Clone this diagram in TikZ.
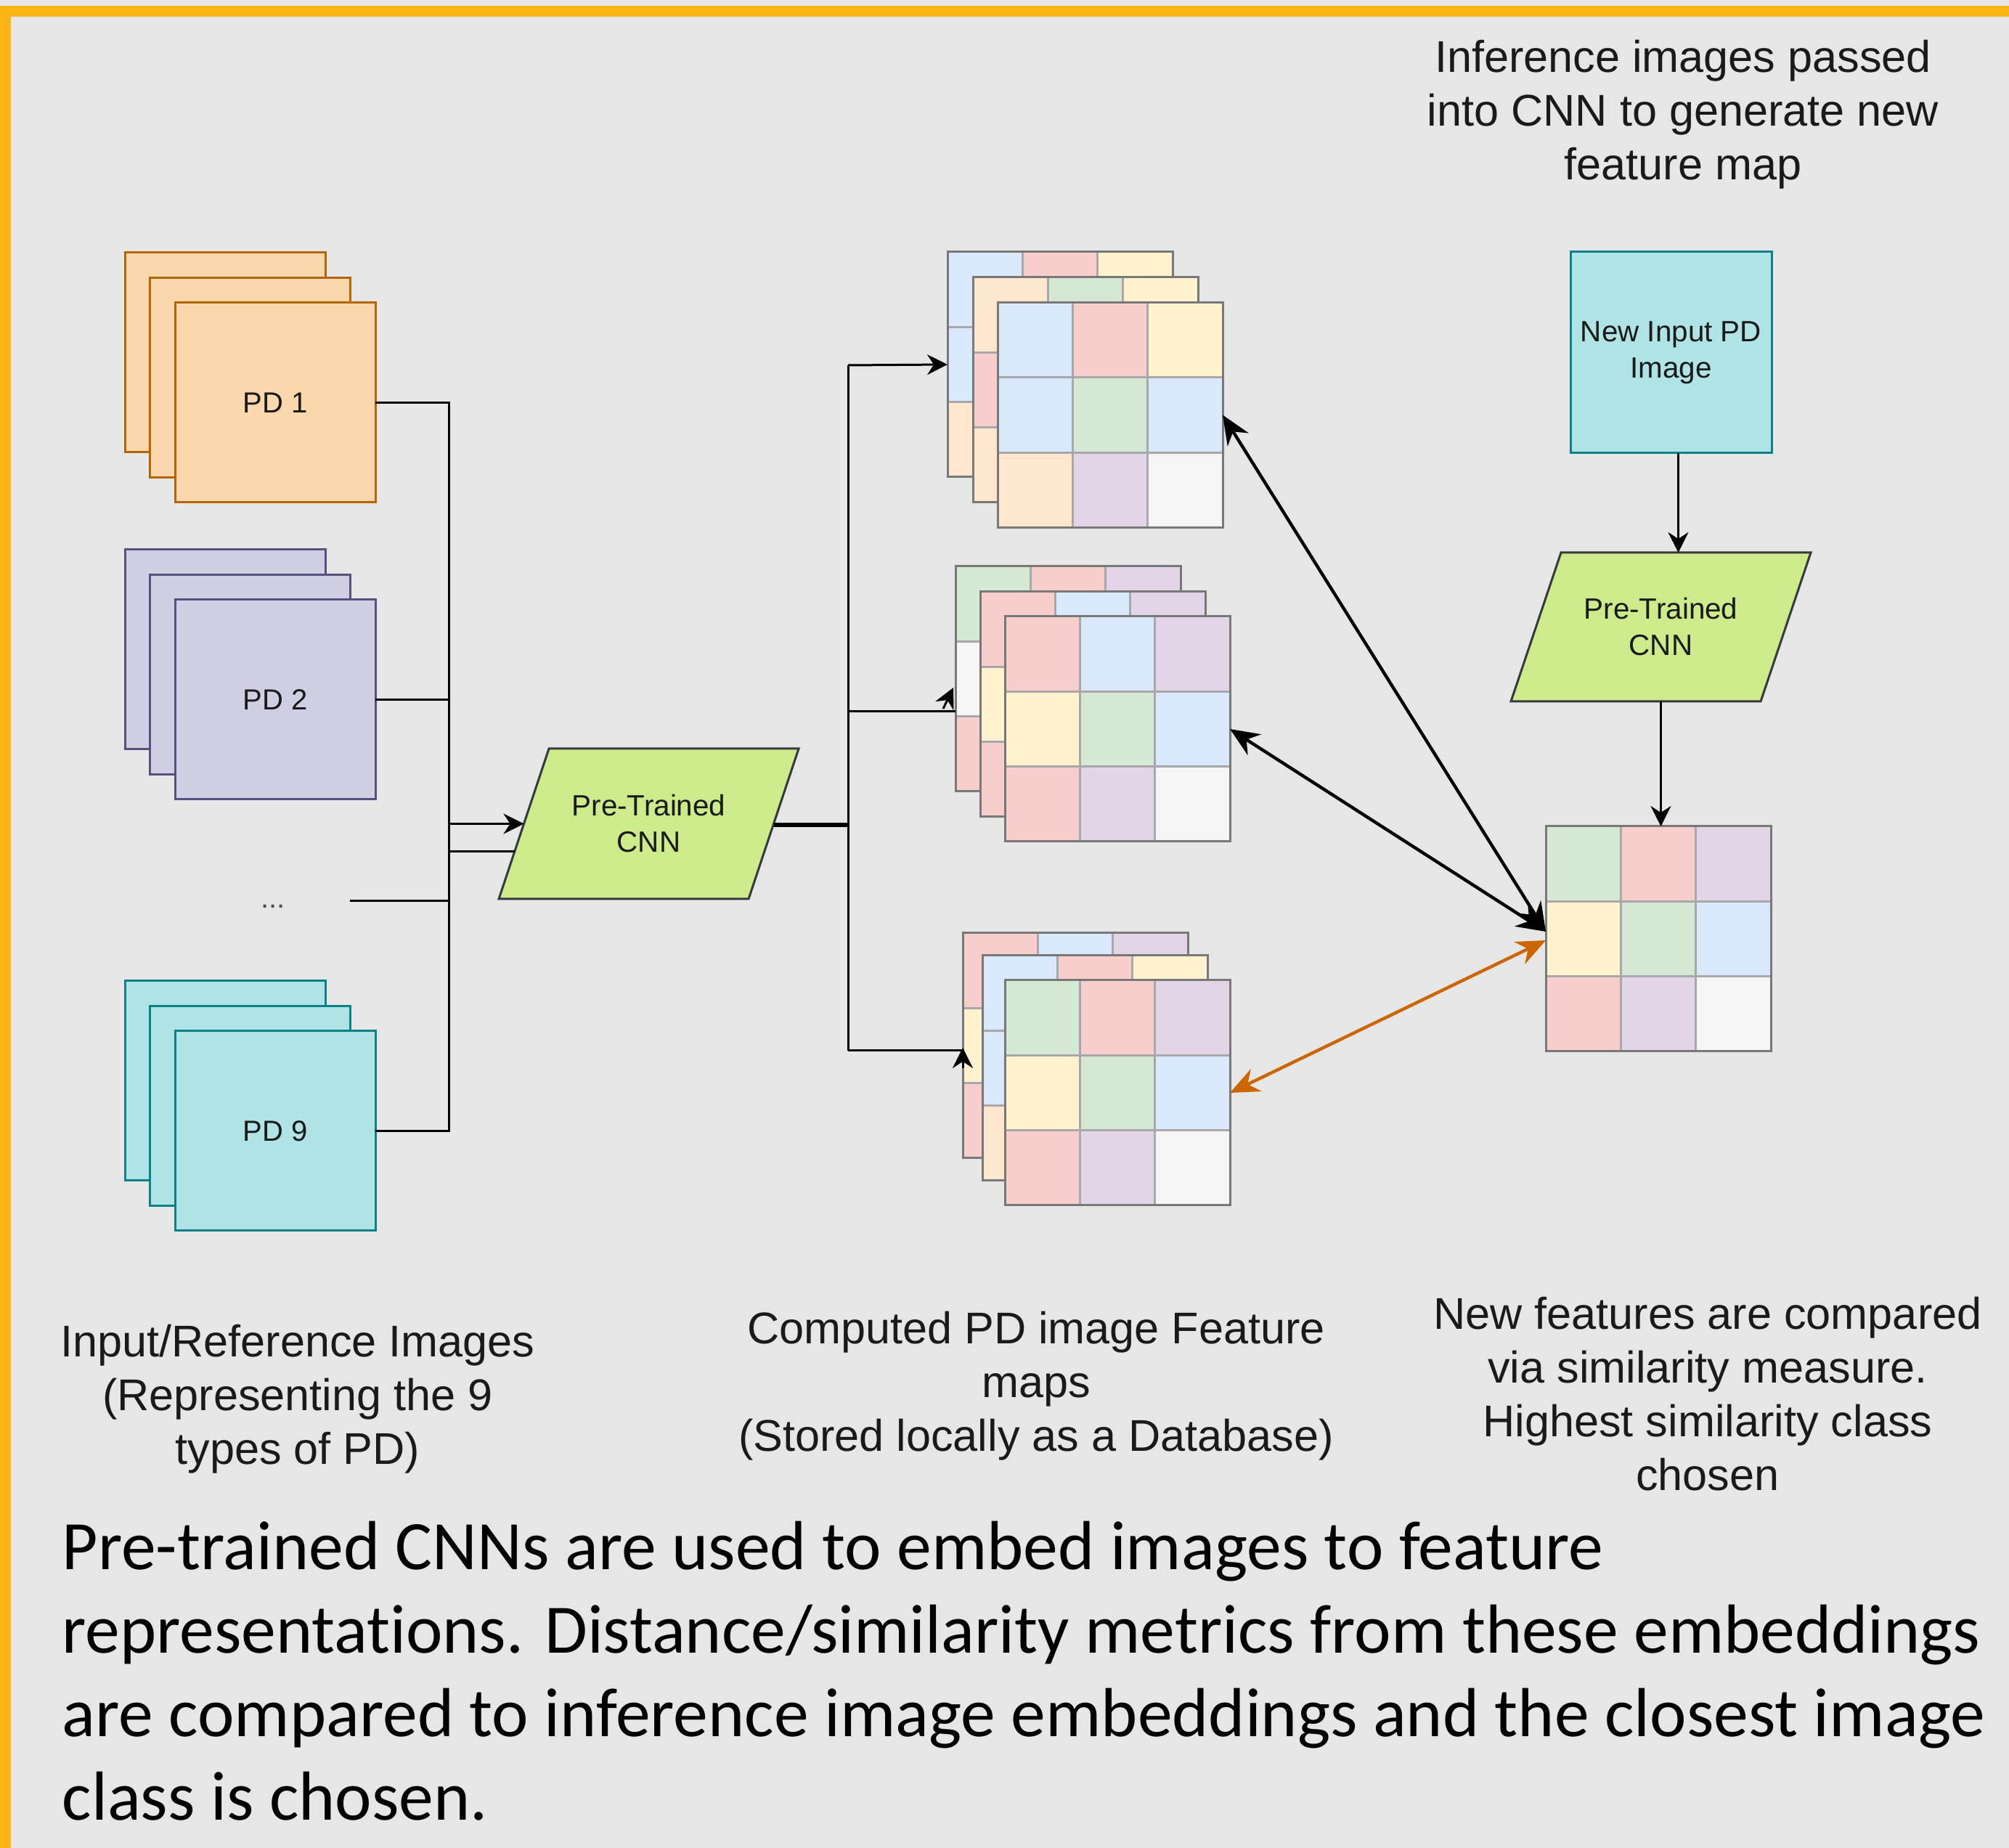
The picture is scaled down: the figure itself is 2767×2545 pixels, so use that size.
\documentclass[tikz,border=0pt]{standalone}
\usepackage{fontspec}
\setmainfont{Liberation Sans}
\newfontfamily\capfont[Ligatures={NoCommon,NoContextual,NoRare}]{Carlito}
\usetikzlibrary{arrows.meta,calc}

\definecolor{bgc}{HTML}{E6E6E6}
\definecolor{yframe}{HTML}{FBB616}
\definecolor{pfill}{HTML}{FAD7AC}\definecolor{pline}{HTML}{B46504}
\definecolor{vfill}{HTML}{D0CEE2}\definecolor{vline}{HTML}{56517E}
\definecolor{tfill}{HTML}{B0E3E6}\definecolor{tline}{HTML}{0E8088}
\definecolor{gfill}{HTML}{CDEB8B}\definecolor{gline}{HTML}{36393D}
\definecolor{cb}{HTML}{DAE8FC}\definecolor{cr}{HTML}{F8CECC}
\definecolor{cy}{HTML}{FFF2CC}\definecolor{cg}{HTML}{D5E8D4}
\definecolor{cp}{HTML}{E1D5E7}\definecolor{co}{HTML}{FFE6CC}
\definecolor{cw}{HTML}{F5F5F5}
\definecolor{gridin}{HTML}{A8A8AC}
\definecolor{gridout}{HTML}{787878}
\definecolor{arrorange}{HTML}{CC6600}
\definecolor{txt}{HTML}{1A1A1A}

\tikzset{
  pdbox/.style={rectangle, minimum width=69pt, minimum height=68.75pt, inner sep=0pt, outer sep=0pt,
    line width=0.75pt, anchor=north west, font=\fontsize{10}{12}\selectfont, text=txt},
  pdA/.style={pdbox, fill=pfill, draw=pline},
  pdB/.style={pdbox, fill=vfill, draw=vline},
  pdC/.style={pdbox, fill=tfill, draw=tline},
  gridnode/.style={rectangle, minimum width=77.5pt, minimum height=77.5pt, inner sep=0pt, outer sep=0pt, anchor=north west},
  cnnrect/.style={rectangle, minimum width=103.25pt, minimum height=51.75pt, inner sep=0pt, outer sep=0pt},
  paraface/.style={fill=gfill, draw=gline, line width=0.75pt, line join=miter},
  boxtext/.style={font=\fontsize{10.1}{12.5}\selectfont, text=txt, align=center},
  lbl/.style={font=\fontsize{15.3}{18.5}\selectfont, text=txt, align=center, inner sep=0pt},
  captext/.style={font=\capfont\fontsize{23.9}{28.75}\selectfont, text=black, align=left, inner sep=0pt, anchor=west},
  conn/.style={draw=black, line width=0.75pt},
  connarrow/.style={conn, -{Stealth[length=7pt, width=7pt]}},
  tiphead/.style={draw=black, line width=0.75pt, -{Stealth[length=7pt, width=7pt]}},
  dbl/.style={line width=1.1pt, {Stealth[length=10pt,width=8.5pt]}-{Stealth[length=10pt,width=8.5pt]}},
}

\newcommand\pdstack[5]{%
  \node[#4] (#1a) at (#2,#3) {};
  \node[#4] (#1b) at ({#2+34.5},{#3+34.5}) {};
  \node[#4] (#1c) at ({#2+69},{#3+69}) {#5};
}

\newcommand\fgrid[4]{%
  \node[gridnode] (#1) at (#2,#3) {};
  \foreach \cc [count=\k from 0] in {#4} {
    \pgfmathtruncatemacro\rr{(\k+0.5)/3}
    \pgfmathtruncatemacro\qq{\k-3*\rr}
    \filldraw[fill=\cc, draw=gridin, line width=0.75pt]
      ({#2+\qq*103.333},{#3+\rr*103.333}) rectangle +(103.333,103.333);
  }
  \draw[draw=gridout, line width=0.75pt] (#1.north west) rectangle (#1.south east);
}

\begin{document}
\begin{tikzpicture}[x=0.25pt,y=-0.25pt]
\useasboundingbox (0,0) rectangle (2767,2545);
\fill[fill=bgc] (0,0) rectangle (2767,2545);
\fill[fill=yframe] (0,8) rectangle (2767,23);
\fill[fill=yframe] (0,8) rectangle (15,2545);

% input stacks
\pdstack{pd1}{172}{348}{pdA}{PD 1}
\pdstack{pd2}{172}{757}{pdB}{PD 2}
\pdstack{pd9}{172}{1351}{pdC}{PD 9}
\node[font=\fontsize{10}{12}\selectfont, text=black!70, minimum width=52.5pt, inner sep=0pt] (pddots) at (376,1241) {\strut...};

% left CNN
\node[cnnrect] (cnnL) at (893.5,1134.5) {};
\path[paraface] (cnnL.south west) -- ($(cnnL.north west)+(69,0)$) -- (cnnL.north east) -- ($(cnnL.south east)+(-69,0)$) -- cycle;
\node[boxtext] (cnnLt) at (cnnL) {Pre-Trained\\CNN};
\coordinate (cnnLin) at ($(cnnL.west)+(34.5,0)$);
\coordinate (cnnLin2) at ($(cnnL.west)+(21.7,38.5)$);
\coordinate (cnnLout) at ($(cnnL.east)+(-34.5,1.5)$);

% bus 1
\coordinate (b1) at (618,554);
\draw[conn] (pd1c.east) -| (b1 |- pd9c.east) -- (pd9c.east);
\draw[conn] (pd2c.east) -- (pd2c.east -| b1);
\draw[conn] (pddots.east) -- (pddots.east -| b1);
\draw[connarrow] (b1 |- cnnLin) -- (cnnLin);
\draw[conn] (b1 |- cnnLin2) -- (cnnLin2);

% feature map stacks
\fgrid{fm1a}{1305}{347}{cb,cr,cy,cb,cg,cb,co,cp,cw}
\fgrid{fm1b}{1340}{382}{co,cg,cy,cr,cg,cb,co,cp,cw}
\fgrid{fm1c}{1374}{416.5}{cb,cr,cy,cb,cg,cb,co,cp,cw}

\coordinate (b2) at (1168,503);
\coordinate (b2mid) at (1168,980);
\coordinate (b2bot) at (1168,1447);
\coordinate (mtail) at (1299,976);
\coordinate (mtip) at (1313,947);
\path[tiphead] (mtail) -- (mtip);

\fgrid{fm2a}{1316}{780}{cg,cr,cp,cw,cg,cb,cr,cp,cw}
\fgrid{fm2b}{1350}{815}{cr,cb,cp,cy,cg,cb,cr,cp,cw}
\fgrid{fm2c}{1384}{849}{cr,cb,cp,cy,cg,cb,cr,cp,cw}

\fgrid{fm3a}{1326}{1285}{cr,cb,cp,cy,cg,cb,cr,cp,cw}
\fgrid{fm3b}{1353}{1316}{cb,cr,cy,cb,cg,cb,co,cp,cw}
\fgrid{fm3c}{1384}{1350}{cg,cr,cp,cy,cg,cb,cr,cp,cw}

% bus 2
\draw[conn, line width=1.4pt] (cnnLout) -- (cnnLout -| b2);
\draw[conn] (b2) -- (b2bot);
\draw[connarrow] (b2) -- (fm1a.west);
\draw[conn] (b2mid) -- (fm2a.west |- b2mid);
\draw[conn] (b2bot) -- (fm3a.west |- b2bot);
\coordinate (btail) at ($(fm3a.west |- b2bot)+(0,24)$);
\coordinate (btip) at ($(fm3a.west |- b2bot)+(0,-4)$);
\path[tiphead] (btail) -- (btip);

% right side
\node[rectangle, minimum width=69.25pt, minimum height=69.25pt, inner sep=0pt, outer sep=0pt,
  fill=tfill, draw=tline, line width=0.75pt, boxtext] (newimg) at (2301.5,485.5) {New Input PD\\Image};
\node[cnnrect, minimum height=51.25pt] (cnnR) at (2287.5,863.5) {};
\path[paraface] (cnnR.south west) -- ($(cnnR.north west)+(69,0)$) -- (cnnR.north east) -- ($(cnnR.south east)+(-69,0)$) -- cycle;
\node[boxtext] (cnnRt) at (cnnR) {Pre-Trained\\CNN};
\fgrid{ng}{2129}{1138}{cg,cr,cp,cy,cg,cb,cr,cp,cw}

\coordinate (niout) at ([xshift=2.5pt]newimg.south);
\draw[connarrow] (niout) -- (niout |- cnnR.north);
\draw[connarrow] (cnnR.south) -- (cnnR.south |- ng.north);

\draw[dbl, draw=black, fill=black] (fm1c.east) -- ([yshift=2.5pt]ng.west);
\draw[dbl, draw=black, fill=black] (fm2c.east) -- ([yshift=2.5pt]ng.west);
\draw[dbl, draw=arrorange, fill=arrorange] (fm3c.east) -- ([yshift=-0.5pt]ng.west);

% labels
\node[lbl] (lbltop) at (2318,158) {Inference images passed\\into CNN to generate new\\feature map};
\node[lbl] (lbl1) at (410,1927) {Input/Reference Images\\(Representing the 9\\types of PD)};
\node[lbl] (lbl2) at (1427,1909) {Computed PD image Feature\\maps\\(Stored locally as a Database)};
\node[lbl] (lbl3) at (2352,1920) {New features are compared\\via similarity measure.\\Highest similarity class\\chosen};
\node[captext] (caption) at (85,2301) {Pre-trained CNNs are used to embed images to feature\\representations. Distance/similarity metrics from these embeddings\\are compared to inference image embeddings and the closest image\\class is chosen.};
\end{tikzpicture}
\end{document}
